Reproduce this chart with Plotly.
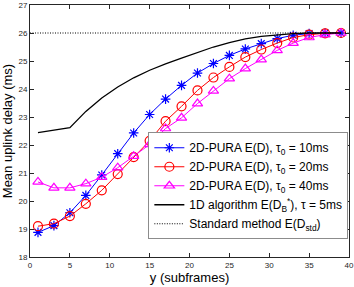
import plotly.graph_objects as go

x_sub = [1, 3, 5, 7, 9, 11, 13, 15, 17, 19, 21, 23, 25, 27, 29, 31, 33, 35, 37, 39]
pura_10 = [18.88, 19.12, 19.58, 20.2, 20.93, 21.69, 22.43, 23.09, 23.64, 24.13,
           24.57, 24.91, 25.2, 25.43, 25.62, 25.8, 25.92, 25.98, 26.0, 26.0]
pura_20 = [19.1, 19.19, 19.46, 19.9, 20.38, 20.96, 21.57, 22.15, 22.85, 23.38,
           23.95, 24.41, 24.79, 25.14, 25.41, 25.64, 25.84, 25.94, 25.99, 26.0]
pura_40 = [20.68, 20.47, 20.47, 20.62, 20.85, 21.19, 21.6, 22.02, 22.59, 22.97,
           23.48, 23.93, 24.37, 24.73, 25.05, 25.38, 25.64, 25.84, 25.94, 26.0]
alg_1d = [22.44, 22.52, 22.62, 23.2, 23.68, 24.07, 24.4, 24.67, 24.9, 25.1,
          25.3, 25.5, 25.66, 25.79, 25.88, 25.94, 25.98, 26.0, 26.0, 26.0]
std_x = [0, 40]
std_y = [26, 26]

x_ticks = [0, 5, 10, 15, 20, 25, 30, 35, 40]
y_ticks = [18, 19, 20, 21, 22, 23, 24, 25, 26, 27]

FONT = "Liberation Sans, Arial, sans-serif"

fig = go.Figure()
fig.add_trace(go.Scatter(
    x=x_sub, y=pura_10, mode="lines+markers", legendgroup="a",
    name="2D-PURA E(D), τ<sub>0</sub> = 10ms",
    line=dict(color="#0000ff", width=1),
    marker=dict(symbol="asterisk-open", size=8, color="#0000ff",
                line=dict(color="#0000ff", width=1.2))))
fig.add_trace(go.Scatter(
    x=x_sub, y=pura_20, mode="lines+markers", legendgroup="b",
    name="2D-PURA E(D), τ<sub>0</sub> = 20ms",
    line=dict(color="#ff0000", width=1),
    marker=dict(symbol="circle-open", size=9, color="#ff0000",
                line=dict(color="#ff0000", width=1.2))))
fig.add_trace(go.Scatter(
    x=x_sub, y=pura_40, mode="lines+markers", legendgroup="c",
    name="2D-PURA E(D), τ<sub>0</sub> = 40ms",
    line=dict(color="#ff00ff", width=1),
    marker=dict(symbol="triangle-up-open", size=9, color="#ff00ff",
                line=dict(color="#ff00ff", width=1.2))))
fig.add_trace(go.Scatter(
    x=x_sub, y=alg_1d, mode="lines", legendgroup="d",
    name="1D algorithm E(D<sub>B</sub><sup>*</sup>), τ = 5ms",
    line=dict(color="#000000", width=1.3)))
fig.add_trace(go.Scatter(
    x=std_x, y=std_y, mode="lines", legendgroup="e",
    name="Standard method E(D<sub>std</sub>)",
    line=dict(color="#000000", width=1, dash="1px,1.5px")))

axis_common = dict(
    showgrid=False, zeroline=False, showline=True, linecolor="#262626",
    linewidth=1, mirror="ticks", ticks="inside", ticklen=4, tickwidth=1,
    tickcolor="#262626", tickfont=dict(family=FONT, size=8, color="#262626"),
    automargin=False,
)

fig.update_layout(
    width=354, height=287,
    margin=dict(l=30, r=5, t=5, b=30),
    paper_bgcolor="white", plot_bgcolor="white",
    font=dict(family=FONT, color="#000000"),
    xaxis=dict(range=[0, 40], tickvals=x_ticks,
               title=dict(text="y (subframes)", font=dict(family=FONT, size=13), standoff=3),
               **axis_common),
    yaxis=dict(range=[18, 27], tickvals=y_ticks,
               title=dict(text="Mean uplink delay (ms)", font=dict(family=FONT, size=13), standoff=2),
               **axis_common),
    legend=dict(x=0.371, y=0.495, xanchor="left", yanchor="top",
                bgcolor="white", bordercolor="#8c8c8c", borderwidth=1,
                font=dict(family=FONT, size=12, color="#000000"),
                itemwidth=30, tracegroupgap=2, traceorder="normal"),
    showlegend=True,
)

fig.write_html("out.html", config={"displayModeBar": False},
               post_script="document.body.style.margin='0';document.body.style.overflow='hidden';")
